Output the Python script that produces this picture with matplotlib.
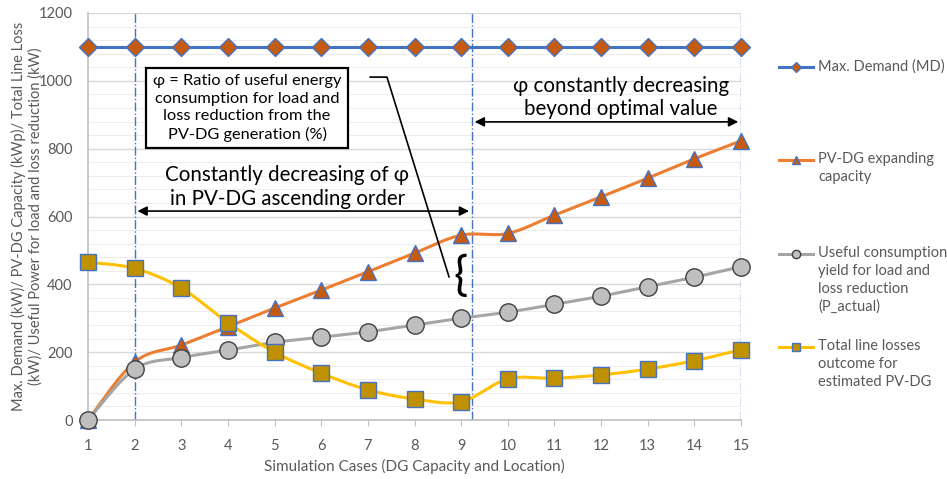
import numpy as np
import matplotlib
matplotlib.use("Agg")
import matplotlib.pyplot as plt
from matplotlib.lines import Line2D

plt.rcParams['font.family'] = ['Lato', 'DejaVu Sans']

cases = list(range(1, 16))
max_demand = [1100] * 15
pv_dg = [0, 171, 221, 275, 330, 383, 437, 492, 545, 550, 604, 658, 713, 770, 823]
useful = [0, 150, 184, 206, 229, 244, 260, 280, 300, 318, 341, 365, 393, 421, 452]
losses = [465, 447, 389, 287, 200, 138, 89, 62, 54, 121, 123, 133, 150, 175, 207]

labels = ["Max. Demand (MD)", "PV-DG expanding\ncapacity",
          "Useful consumption\nyield for load and\nloss reduction\n(P_actual)",
          "Total line losses\noutcome for\nestimated PV-DG"]


def smooth(x, y, n=24):
    x = np.asarray(x, float); y = np.asarray(y, float)
    P = np.column_stack([x, y])
    out = []
    for i in range(len(P) - 1):
        p0 = P[i - 1] if i > 0 else P[i]
        p1 = P[i]; p2 = P[i + 1]
        p3 = P[i + 2] if i + 2 < len(P) else P[i + 1]
        c1 = p1 + (p2 - p0) / 6.0
        c2 = p2 - (p3 - p1) / 6.0
        t = np.linspace(0, 1, n)[:, None]
        seg = (1 - t) ** 3 * p1 + 3 * (1 - t) ** 2 * t * c1 + 3 * (1 - t) * t ** 2 * c2 + t ** 3 * p2
        out.append(seg if i == 0 else seg[1:])
    s = np.vstack(out)
    return s[:, 0], s[:, 1]


W, H = 947, 479
fig = plt.figure(figsize=(W / 100, H / 100), dpi=100)
ax = fig.add_axes([88 / W, 1 - 420 / H, (741 - 88) / W, (420 - 13) / H])

ax.set_xlim(1, 15)
ax.set_ylim(0, 1200)
ax.set_yticks(range(0, 1201, 200))
ax.set_yticks(range(0, 1201, 40), minor=True)
ax.set_xticks(cases)
ax.grid(which='major', axis='y', color='#D9D9D9', lw=1.0)
ax.grid(which='minor', axis='y', color='#EDEDED', lw=0.8)
ax.set_axisbelow(True)
for s in ['top', 'right']:
    ax.spines[s].set_visible(False)
ax.spines['left'].set_color('#BFBFBF')
ax.spines['bottom'].set_color('#BFBFBF')
ax.spines['left'].set_linewidth(1.2)
ax.spines['bottom'].set_linewidth(1.2)
ax.tick_params(axis='y', which='both', length=0, colors='#595959', labelsize=10.5, pad=11)
ax.tick_params(axis='x', which='major', length=4, color='#BFBFBF', colors='#595959', labelsize=10.5, pad=10)
ax.tick_params(axis='y', which='minor', length=0)

# vertical dash-dot guide lines
for xv in [2, 9.23, 15]:
    ax.axvline(xv, color='#4472C4', ls='-.', lw=1.0, zorder=2)

# series
ax.plot(cases, max_demand, color='#4472C4', lw=2.2, zorder=4, clip_on=False)
ax.plot(cases, max_demand, ls='none', marker='D', ms=9.5, mfc='#C55A11', mec='#4472C4', mew=1, zorder=5, clip_on=False)

sx, sy = smooth(cases, pv_dg)
ax.plot(sx, sy, color='#ED7D31', lw=2.2, zorder=4, clip_on=False)
ax.plot(cases, pv_dg, ls='none', marker='^', ms=12, mfc='#C55A11', mec='#4472C4', mew=1, zorder=5, clip_on=False)

sx, sy = smooth(cases, useful)
ax.plot(sx, sy, color='#A5A5A5', lw=2.2, zorder=4, clip_on=False)
ax.plot(cases, useful, ls='none', marker='o', ms=12.5, mfc='#BFBFBF', mec='#404040', mew=1, zorder=6, clip_on=False)

sx, sy = smooth(cases, losses)
ax.plot(sx, sy, color='#FFC000', lw=2.2, zorder=4, clip_on=False)
ax.plot(cases, losses, ls='none', marker='s', ms=12, mfc='#BF9000', mec='#4472C4', mew=1, zorder=6, clip_on=False)

ax.set_xlabel("Simulation Cases (DG Capacity and Location)", color='#595959', fontsize=11)
ax.xaxis.set_label_coords(0.5, (420 - 466) / 407)
ax.xaxis.label.set_va('center')
ax.set_ylabel("Max. Demand (kW)/ PV-DG Capacity (kWp)/ Total Line Loss\n(kW)/ Useful Power for load and loss reduction (kW)",
              color='#595959', fontsize=10.5)
ax.yaxis.set_label_coords(-(88 - 27) / 653, 0.5)
ax.yaxis.label.set_va('center')

# annotations
ax.annotate('', xy=(2.0, 616), xytext=(9.23, 616),
            arrowprops=dict(arrowstyle='<|-|>', color='black', lw=1.2, mutation_scale=14), zorder=7)
ax.text(5.27, 687, "Constantly decreasing of φ\nin PV-DG ascending order", ha='center', va='center',
        fontsize=14.8, linespacing=1.2, zorder=7)

ax.annotate('', xy=(9.23, 879), xytext=(15.0, 879),
            arrowprops=dict(arrowstyle='<|-|>', color='black', lw=1.2, mutation_scale=14), zorder=7)
ax.text(12.43, 951, "φ constantly decreasing\nbeyond optimal value", ha='center', va='center',
        fontsize=14.8, linespacing=1.2, zorder=7)

ax.text(4.41, 920, "φ = Ratio of useful energy\nconsumption for load and\nloss reduction from the\nPV-DG generation (%)",
        ha='center', va='center', fontsize=11.8, linespacing=1.3, zorder=8,
        bbox=dict(boxstyle='square,pad=0.4', fc='white', ec='black', lw=1.6))

ax.plot([7.05, 7.41, 8.74], [1011, 1011, 422], color='black', lw=1.2, zorder=7)
ax.text(8.98, 422, "{", ha='center', va='center', fontsize=34, zorder=7)

# legend (manual, handle aligned with first text line)
ys = [67, 160, 254, 347]
styles = [('#4472C4', 'D', '#C55A11', '#4472C4', 5),
          ('#ED7D31', '^', '#C55A11', '#4472C4', 6),
          ('#A5A5A5', 'o', '#BFBFBF', '#404040', 6),
          ('#FFC000', 's', '#BF9000', '#4472C4', 6)]
for yp, (lc, mk, mf, me, ms), lab in zip(ys, styles, labels):
    yf = 1 - yp / H
    fig.add_artist(Line2D([779 / W, 813 / W], [yf, yf], color=lc, lw=2.2, transform=fig.transFigure))
    fig.add_artist(Line2D([796 / W], [yf], marker=mk, ms=ms, mfc=mf, mec=me, mew=1, transform=fig.transFigure))
    fig.text(818 / W, yf + 8 / H, lab, ha='left', va='top', fontsize=10.5, color='#595959', linespacing=1.35)

fig.savefig('out.png', dpi=100)
